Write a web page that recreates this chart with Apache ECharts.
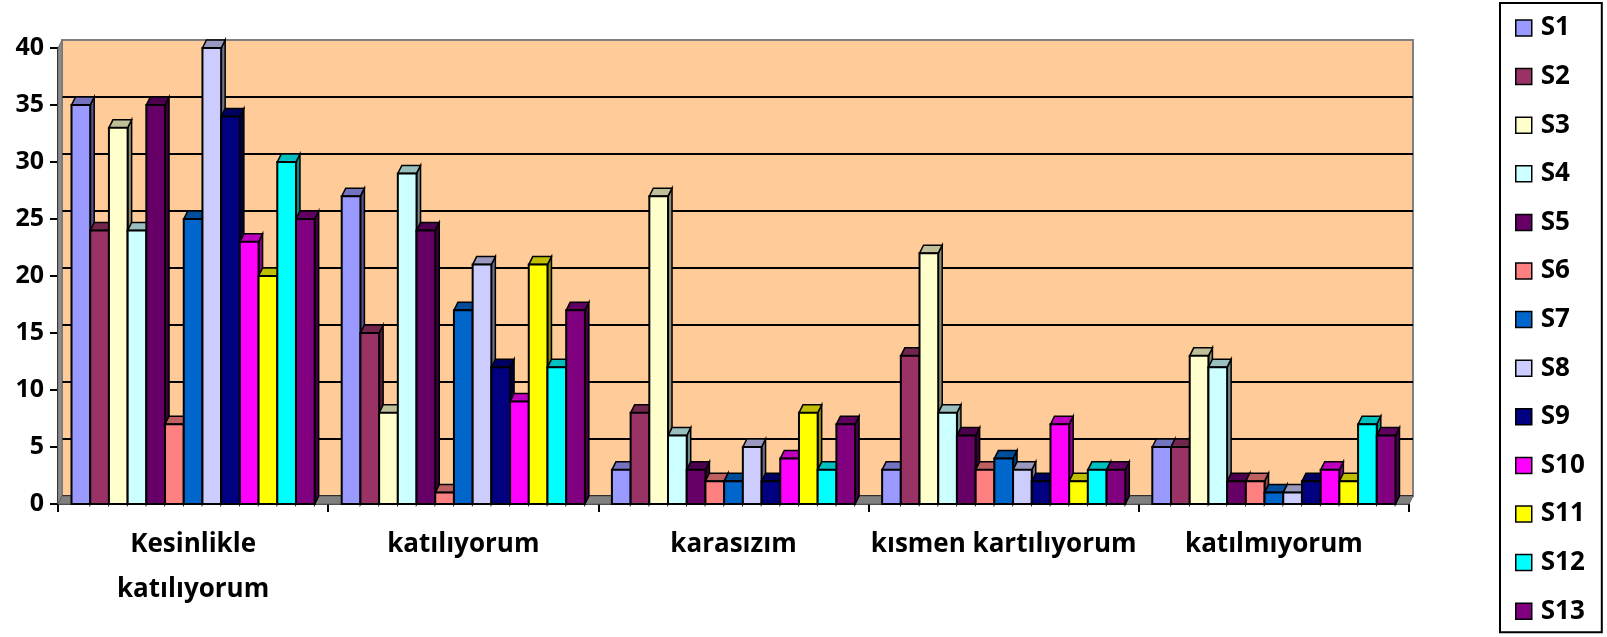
<!DOCTYPE html>
<html>
<head>
<meta charset="utf-8">
<script src="https://cdn.jsdelivr.net/npm/echarts@6/dist/echarts.min.js"></script>
<style>
html,body{margin:0;padding:0;background:#fff;}
#chart{width:1607px;height:637px;}
</style>
</head>
<body>
<div id="chart"></div>
<script>
// ---- data ----
const categories = ['Kesinlikle\nkatılıyorum', 'katılıyorum', 'karasızım', 'kısmen kartılıyorum', 'katılmıyorum'];
const seriesNames = ['S1','S2','S3','S4','S5','S6','S7','S8','S9','S10','S11','S12','S13'];
const S1  = [35, 27, 3, 3, 5];
const S2  = [24, 15, 8, 13, 5];
const S3  = [33, 8, 27, 22, 13];
const S4  = [24, 29, 6, 8, 12];
const S5  = [35, 24, 3, 6, 2];
const S6  = [7, 1, 2, 3, 2];
const S7  = [25, 17, 2, 4, 1];
const S8  = [40, 21, 5, 3, 1];
const S9  = [34, 12, 2, 2, 2];
const S10 = [23, 9, 4, 7, 3];
const S11 = [20, 21, 8, 2, 2];
const S12 = [30, 12, 3, 3, 7];
const S13 = [25, 17, 7, 3, 6];
const seriesValues = [S1,S2,S3,S4,S5,S6,S7,S8,S9,S10,S11,S12,S13];
const yTicks = [0, 5, 10, 15, 20, 25, 30, 35, 40];

// ---- style ----
const colors = ['#9999FF','#993366','#FFFFCC','#CCFFFF','#660066','#FF8080','#0066CC','#CCCCFF','#000080','#FF00FF','#FFFF00','#00FFFF','#800080'];
const DX = 4, DY = 8, GAP = 0.1;
const FONT = '"Open Sans", "DejaVu Sans", sans-serif';

function shade(hex, f) {
  const n = parseInt(hex.slice(1), 16);
  const r = Math.round(((n >> 16) & 255) * f), g = Math.round(((n >> 8) & 255) * f), b = Math.round((n & 255) * f);
  return 'rgb(' + r + ',' + g + ',' + b + ')';
}

const N = seriesNames.length;
function makeRender(si) {
  return function (params, api) {
    const cat = api.value(0), val = api.value(1);
    const band = api.size([1, 0])[0];
    const bw = band * (1 - GAP) / N;
    const base = api.coord([cat, 0]);
    const top = api.coord([cat, val]);
    const x0 = base[0] - bw * N / 2 + si * bw;
    const y0 = top[1], y1 = base[1];
    const col = colors[si];
    return {
      type: 'group',
      children: [
        { type: 'polygon', shape: { points: [[x0 + bw, y0], [x0 + bw + DX, y0 - DY], [x0 + bw + DX, y1 - DY], [x0 + bw, y1]] },
          style: { fill: shade(col, 0.55), stroke: '#000', lineWidth: 1.5 } },
        { type: 'polygon', shape: { points: [[x0, y0], [x0 + bw, y0], [x0 + bw + DX, y0 - DY], [x0 + DX, y0 - DY]] },
          style: { fill: shade(col, 0.75), stroke: '#000', lineWidth: 1.5 } },
        { type: 'rect', shape: { x: x0, y: y0, width: bw, height: y1 - y0 },
          style: { fill: col, stroke: '#000', lineWidth: 2 } }
      ]
    };
  };
}

const series = [{
  type: 'custom',
  name: '_floor',
  xAxisIndex: 1, yAxisIndex: 1,
  silent: true,
  z: 1,
  data: [[0, 0]],
  renderItem: function (params, api) {
    const cs = params.coordSys;
    const bx = cs.x, by = cs.y + cs.height, r = cs.x + cs.width;
    return {
      type: 'group',
      children: [
        { type: 'polygon', shape: { points: [[bx, cs.y], [bx + DX, cs.y - DY], [bx + DX, by - DY], [bx, by]] },
          style: { fill: '#8c8c8c', stroke: '#707070', lineWidth: 1 } },
        { type: 'polygon', shape: { points: [[bx, by], [r, by], [r + DX, by - DY], [bx + DX, by - DY]] },
          style: { fill: '#808080', stroke: '#606060', lineWidth: 1 } }
      ]
    };
  }
}];
seriesValues.forEach(function (vals, si) {
  series.push({
    type: 'custom',
    name: seriesNames[si],
    xAxisIndex: 1, yAxisIndex: 1,
    z: 2,
    itemStyle: { color: colors[si], borderColor: '#000', borderWidth: 1.5 },
    encode: { x: 0, y: 1 },
    data: vals.map(function (v, ci) { return [ci, v]; }),
    renderItem: makeRender(si)
  });
});

const splitColors = yTicks.map(function (t, i) { return i === yTicks.length - 1 ? '#808080' : '#000'; });

const chart = echarts.init(document.getElementById('chart'), null, { renderer: 'canvas' });
chart.setOption({
  animation: false,
  backgroundColor: '#fff',
  grid: [
    { left: 58 + DX, right: 198 - DX, top: 48 - DY, bottom: 133 + DY, show: true,
      backgroundColor: '#FFCC99', borderColor: '#808080', borderWidth: 2 },
    { left: 58, right: 198, top: 48, bottom: 133 }
  ],
  xAxis: [
    { type: 'category', gridIndex: 0, data: categories, show: false },
    { type: 'category', gridIndex: 1, data: categories,
      axisLine: { lineStyle: { color: '#000', width: 1.5 } },
      axisTick: { show: true, length: 8, interval: 0, lineStyle: { color: '#000', width: 2 } },
      axisLabel: { interval: 0, margin: 18, color: '#000', fontFamily: FONT, fontWeight: 'bold', fontSize: 26, lineHeight: 45 },
      splitLine: { show: false } }
  ],
  yAxis: [
    { type: 'value', gridIndex: 0, min: yTicks[0], max: yTicks[yTicks.length - 1], interval: yTicks[1] - yTicks[0],
      axisLine: { show: false }, axisTick: { show: false }, axisLabel: { show: false },
      splitLine: { show: true, lineStyle: { color: splitColors, width: 2 } } },
    { type: 'value', gridIndex: 1, min: yTicks[0], max: yTicks[yTicks.length - 1], interval: yTicks[1] - yTicks[0],
      axisLine: { show: true, lineStyle: { color: '#000', width: 2 } },
      axisTick: { show: true, length: 8, lineStyle: { color: '#000', width: 2 } },
      axisLabel: { margin: 14, color: '#000', fontFamily: FONT, fontWeight: 'bold', fontSize: 25 },
      splitLine: { show: false } }
  ],
  legend: {
    orient: 'vertical',
    left: 1500, top: 3,
    padding: [12, 17, 8, 15],
    itemGap: 22.6,
    itemWidth: 16, itemHeight: 16,
    icon: 'rect',
    selectedMode: false,
    borderColor: '#000', borderWidth: 2,
    backgroundColor: '#fff',
    data: seriesNames,
    itemStyle: { borderColor: '#000', borderWidth: 1.5 },
    textStyle: { color: '#000', fontFamily: FONT, fontWeight: 'bold', fontSize: 26, lineHeight: 26, padding: [0, 0, 0, 4] }
  },
  series: series
});
</script>
</body>
</html>
